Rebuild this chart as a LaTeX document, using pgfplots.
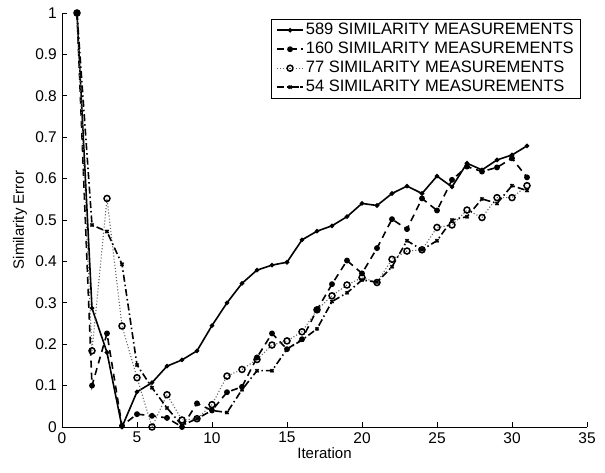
\documentclass[border=0pt]{standalone}
\usepackage{pgfplots}
\pgfplotsset{compat=1.18}
\usepackage{fontspec}
\setmainfont{Liberation Sans}
\begin{document}
\fontsize{15}{18}\selectfont
\begin{tikzpicture}
\begin{axis}[
  scale only axis, width=525pt, height=414pt,
  xmin=0, xmax=35, ymin=0, ymax=1,
  axis x line*=bottom, axis y line*=left,
  axis line style={line width=0.8pt},
  tick align=inside, major tick length=5pt,
  tick style={line width=0.7pt, black},
  xtick={0,5,...,35}, ytick={0,0.1,...,1},
  yticklabel style={/pgf/number format/fixed, /pgf/number format/precision=1},
  /pgf/number format/assume math mode=true,
  ticklabel style={font=\fontsize{15.5}{18}\selectfont},
  xlabel={Iteration}, ylabel={Similarity Error},
  label style={font=\fontsize{15}{17}\selectfont},
  xlabel style={yshift=6pt}, ylabel style={yshift=-2pt},
  legend style={at={(0.9886,0.9855)}, anchor=north east, draw=black, line width=0.8pt,
    font=\fontsize{16.5}{19}\selectfont, inner xsep=5pt, inner ysep=2pt, row sep=1.2pt, legend cell align=left},
  legend image code/.code={\draw[#1] (0pt,0pt) -- (13pt,0pt); \draw[#1, mark repeat=2, mark phase=2] plot coordinates {(0pt,0pt) (13pt,0pt) (26pt,0pt)}; \draw[#1] (13pt,0pt) -- (26pt,0pt);},
]
\addplot[black, line width=1.6pt, mark=*, mark size=1.4pt] coordinates {
(1,1.0) (2,0.287) (3,0.180) (4,0.0) (5,0.085) (6,0.107) (7,0.147) (8,0.162) (9,0.184)
(10,0.245) (11,0.300) (12,0.347) (13,0.379) (14,0.391) (15,0.398) (16,0.452) (17,0.473)
(18,0.486) (19,0.508) (20,0.540) (21,0.535) (22,0.564) (23,0.582) (24,0.564) (25,0.606)
(26,0.580) (27,0.637) (28,0.621) (29,0.645) (30,0.657) (31,0.679)};
\addlegendentry{589 SIMILARITY MEASUREMENTS}
\addplot[black, line width=1.6pt, dash pattern=on 7pt off 5pt, mark=*, mark size=2.1pt, mark options={solid}] coordinates {
(1,1.0) (2,0.100) (3,0.226) (4,0.003) (5,0.031) (6,0.027) (7,0.022) (8,0.0) (9,0.057)
(10,0.040) (11,0.084) (12,0.097) (13,0.168) (14,0.226) (15,0.188) (16,0.212) (17,0.283)
(18,0.345) (19,0.402) (20,0.371) (21,0.432) (22,0.502) (23,0.478) (24,0.552) (25,0.523)
(26,0.597) (27,0.629) (28,0.617) (29,0.627) (30,0.649) (31,0.603)};
\addlegendentry{160 SIMILARITY MEASUREMENTS}
\addplot[black!60, line width=1.1pt, dotted, mark=o, mark size=3pt, mark options={solid, black, line width=1.5pt}] coordinates {
(1,1.0) (2,0.184) (3,0.552) (4,0.244) (5,0.119) (6,0.0) (7,0.078) (8,0.017) (9,0.020)
(10,0.054) (11,0.123) (12,0.139) (13,0.163) (14,0.198) (15,0.208) (16,0.230) (17,0.283)
(18,0.317) (19,0.343) (20,0.361) (21,0.349) (22,0.405) (23,0.425) (24,0.428) (25,0.482)
(26,0.488) (27,0.524) (28,0.506) (29,0.554) (30,0.554) (31,0.583)};
\addlegendentry{77 SIMILARITY MEASUREMENTS}
\addplot[black, line width=1.6pt, dash pattern=on 7pt off 3pt on 1.5pt off 3pt, mark=x, mark size=2.2pt, mark options={solid}] coordinates {
(1,1.0) (2,0.488) (3,0.472) (4,0.393) (5,0.150) (6,0.095) (7,0.046) (8,0.004) (9,0.020)
(10,0.040) (11,0.035) (12,0.090) (13,0.136) (14,0.136) (15,0.188) (16,0.210) (17,0.237)
(18,0.303) (19,0.324) (20,0.355) (21,0.350) (22,0.387) (23,0.450) (24,0.428) (25,0.450)
(26,0.500) (27,0.508) (28,0.551) (29,0.540) (30,0.583) (31,0.571)};
\addlegendentry{54 SIMILARITY MEASUREMENTS}
\end{axis}
\pgfresetboundingbox
\useasboundingbox ([shift={(-62pt,-46pt)}]current axis.south west) rectangle ([shift={(18pt,13pt)}]current axis.north east);
\end{tikzpicture}
\end{document}
